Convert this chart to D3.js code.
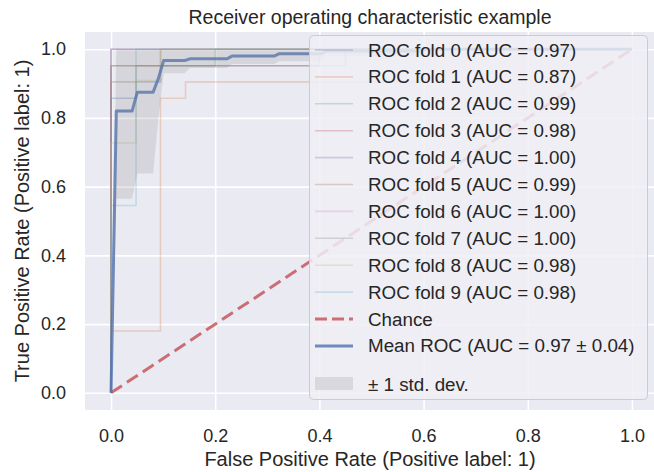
<!DOCTYPE html>
<html><head><meta charset="utf-8">
<script src="https://cdn.jsdelivr.net/npm/d3@7"></script>
<style>
html,body{margin:0;padding:0;background:#fff;}
svg{display:block;font-family:"Liberation Sans",Arial,sans-serif;}
</style></head>
<body>
<svg id="chart" width="654" height="472"></svg>
<script>
// ---------------- DATA ----------------
const titleText = "Receiver operating characteristic example";
const xLabelText = "False Positive Rate (Positive label: 1)";
const yLabelText = "True Positive Rate (Positive label: 1)";
const tickValues = [0, 0.2, 0.4, 0.6, 0.8, 1.0];
const tickLabels = ["0.0", "0.2", "0.4", "0.6", "0.8", "1.0"];

const foldAUC = ["0.97", "0.87", "0.99", "0.98", "1.00", "0.99", "1.00", "1.00", "0.98", "0.98"];
const foldColors = ["#4C72B0", "#DD8452", "#55A868", "#C44E52", "#8172B3", "#937860", "#DA8BC3", "#8C8C8C", "#CCB974", "#64B5CD"];

const fold0Fpr = [0, 0, 0.048, 0.048, 0.095, 0.095, 0.45, 0.45, 1];
const fold0Tpr = [0, 0.857, 0.857, 0.905, 0.905, 0.952, 0.952, 1, 1];
const fold1Fpr = [0, 0, 0.095, 0.095, 0.143, 0.143, 0.6, 0.6, 1];
const fold1Tpr = [0, 0.18, 0.18, 0.857, 0.857, 0.905, 0.905, 1, 1];
const fold2Fpr = [0, 0, 0.2, 0.2, 1];
const fold2Tpr = [0, 0.952, 0.952, 1, 1];
const fold3Fpr = [0, 0, 0.4, 0.4, 1];
const fold3Tpr = [0, 0.952, 0.952, 1, 1];
const fold4Fpr = [0, 0, 1];
const fold4Tpr = [0, 1, 1];
const fold5Fpr = [0, 0, 0.048, 0.048, 0.095, 0.095, 1];
const fold5Tpr = [0, 0.905, 0.905, 0.952, 0.952, 1, 1];
const fold6Fpr = [0, 0, 1];
const fold6Tpr = [0, 1, 1];
const fold7Fpr = [0, 0, 1];
const fold7Tpr = [0, 1, 1];
const fold8Fpr = [0, 0, 0.048, 0.048, 0.095, 0.095, 1];
const fold8Tpr = [0, 0.727, 0.727, 0.909, 0.909, 1, 1];
const fold9Fpr = [0, 0, 0.048, 0.048, 1];
const fold9Tpr = [0, 0.545, 0.545, 1, 1];

const meanFpr = [0, 0.0101, 0.0404, 0.0505, 0.0808, 0.0909, 0.101, 0.1414, 0.1515, 0.2222, 0.2323, 0.3131, 0.3232, 0.4040, 0.4141, 0.5960, 0.6061, 1.0];
const meanTpr = [0, 0.82, 0.82, 0.875, 0.875, 0.915, 0.967, 0.967, 0.972, 0.972, 0.98, 0.98, 0.987, 0.987, 0.995, 0.995, 1.0, 1.0];
const stdLower = [0, 0.565, 0.565, 0.638, 0.638, 0.80, 0.93, 0.93, 0.945, 0.945, 0.957, 0.957, 0.965, 0.965, 0.98, 0.98, 1.0, 1.0];
const stdUpper = [0, 1, 1, 1, 1, 1, 1, 1, 1, 1, 1, 1, 1, 1, 1, 1, 1, 1];

const chanceFpr = [0, 1];
const chanceTpr = [0, 1];

const meanLabel = "Mean ROC (AUC = 0.97 ± 0.04)";
const chanceLabel = "Chance";
const stdLabel = "± 1 std. dev.";

// ---------------- LAYOUT ----------------
const svg = d3.select("#chart");
const L = 85, R = 658, T = 32, B = 410;
const x = d3.scaleLinear().domain([-0.05, 1.05]).range([L, R]);
const y = d3.scaleLinear().domain([-0.05, 1.05]).range([B, T]);
const textColor = "#262626";

svg.append("defs").append("clipPath").attr("id", "plotclip")
  .append("rect").attr("x", L).attr("y", T).attr("width", R - L).attr("height", B - T);

svg.append("rect").attr("x", L).attr("y", T).attr("width", R - L).attr("height", B - T).attr("fill", "#EAEAF2");

// grid
const gx = svg.append("g").attr("transform", `translate(0,${B})`)
  .call(d3.axisBottom(x).tickValues(tickValues).tickSize(-(B - T)).tickFormat(""));
gx.select(".domain").remove();
gx.selectAll("line").attr("stroke", "#fff").attr("stroke-width", 1.6);
const gy = svg.append("g").attr("transform", `translate(${L},0)`)
  .call(d3.axisLeft(y).tickValues(tickValues).tickSize(-(R - L)).tickFormat(""));
gy.select(".domain").remove();
gy.selectAll("line").attr("stroke", "#fff").attr("stroke-width", 1.6);

// tick labels
const ax = svg.append("g").attr("transform", `translate(0,${B})`)
  .call(d3.axisBottom(x).tickValues(tickValues).tickSize(0).tickPadding(19).tickFormat((d, i) => tickLabels[i]));
ax.select(".domain").remove();
ax.selectAll("text").attr("font-size", 18).attr("fill", textColor).attr("font-family", "Liberation Sans, Arial, sans-serif");
const ay = svg.append("g").attr("transform", `translate(${L},0)`)
  .call(d3.axisLeft(y).tickValues(tickValues).tickSize(0).tickPadding(19).tickFormat((d, i) => tickLabels[i]));
ay.select(".domain").remove();
ay.selectAll("text").attr("font-size", 18).attr("fill", textColor).attr("font-family", "Liberation Sans, Arial, sans-serif");

const plot = svg.append("g").attr("clip-path", "url(#plotclip)");
const line = d3.line().x(d => x(d[0])).y(d => y(d[1]));
const zip = (a, b) => a.map((v, i) => [v, b[i]]);

const folds = [
  [fold0Fpr, fold0Tpr], [fold1Fpr, fold1Tpr], [fold2Fpr, fold2Tpr], [fold3Fpr, fold3Tpr], [fold4Fpr, fold4Tpr],
  [fold5Fpr, fold5Tpr], [fold6Fpr, fold6Tpr], [fold7Fpr, fold7Tpr], [fold8Fpr, fold8Tpr], [fold9Fpr, fold9Tpr]
];
folds.forEach((f, i) => {
  plot.append("path").attr("d", line(zip(f[0], f[1]))).attr("fill", "none")
    .attr("stroke", foldColors[i]).attr("stroke-opacity", 0.3).attr("stroke-width", 1.6);
});

plot.append("path").attr("d", line(zip(chanceFpr, chanceTpr))).attr("fill", "none")
  .attr("stroke", "#C44E52").attr("stroke-opacity", 0.8).attr("stroke-width", 3).attr("stroke-dasharray", "13,6");

plot.append("path").attr("d", line(zip(meanFpr, meanTpr))).attr("fill", "none")
  .attr("stroke", "#4C72B0").attr("stroke-opacity", 0.8).attr("stroke-width", 3).attr("stroke-linejoin", "round");

const area = d3.area().x((d, i) => x(meanFpr[i])).y0((d, i) => y(stdLower[i])).y1((d, i) => y(stdUpper[i]));
plot.append("path").attr("d", area(meanFpr)).attr("fill", "#808080").attr("fill-opacity", 0.2);

// title & labels
svg.append("text").attr("x", 370).attr("y", 24).attr("text-anchor", "middle")
  .attr("font-size", 19.5).attr("fill", textColor).text(titleText);
svg.append("text").attr("x", 370).attr("y", 466).attr("text-anchor", "middle")
  .attr("font-size", 20).attr("fill", textColor).text(xLabelText);
svg.append("text").attr("transform", `translate(29,221) rotate(-90)`).attr("text-anchor", "middle")
  .attr("font-size", 20).attr("fill", textColor).text(yLabelText);

// legend
const lg = svg.append("g");
lg.append("rect").attr("x", 309.5).attr("y", 35.5).attr("width", 338).attr("height", 364).attr("rx", 4)
  .attr("fill", "#EFEFF5").attr("fill-opacity", 0.85).attr("stroke", "#CCCCCC").attr("stroke-width", 1);
const hx0 = 315, hx1 = 353, tx = 368;
const rowY = i => 50 + i * 26.9;
const lfs = 18.8;
foldAUC.forEach((auc, i) => {
  const yy = rowY(i);
  lg.append("line").attr("x1", hx0).attr("x2", hx1).attr("y1", yy).attr("y2", yy)
    .attr("stroke", foldColors[i]).attr("stroke-opacity", 0.3).attr("stroke-width", 1.6);
  lg.append("text").attr("x", tx).attr("y", yy).attr("dy", "0.35em").attr("font-size", lfs).attr("fill", textColor)
    .text(`ROC fold ${i} (AUC = ${auc})`);
});
let yy = rowY(10);
lg.append("line").attr("x1", hx0).attr("x2", hx1).attr("y1", yy).attr("y2", yy)
  .attr("stroke", "#C44E52").attr("stroke-opacity", 0.8).attr("stroke-width", 3).attr("stroke-dasharray", "12,5");
lg.append("text").attr("x", tx).attr("y", yy).attr("dy", "0.35em").attr("font-size", lfs).attr("fill", textColor).text(chanceLabel);
yy = rowY(11);
lg.append("line").attr("x1", hx0).attr("x2", hx1).attr("y1", yy).attr("y2", yy)
  .attr("stroke", "#4C72B0").attr("stroke-opacity", 0.8).attr("stroke-width", 3);
lg.append("text").attr("x", tx).attr("y", yy).attr("dy", "0.35em").attr("font-size", lfs).attr("fill", textColor).text(meanLabel);
yy = 384;
lg.append("rect").attr("x", hx0).attr("y", yy - 7).attr("width", hx1 - hx0).attr("height", 13)
  .attr("fill", "#808080").attr("fill-opacity", 0.2);
lg.append("text").attr("x", tx).attr("y", yy).attr("dy", "0.35em").attr("font-size", lfs).attr("fill", textColor).text(stdLabel);
</script>
</body></html>
